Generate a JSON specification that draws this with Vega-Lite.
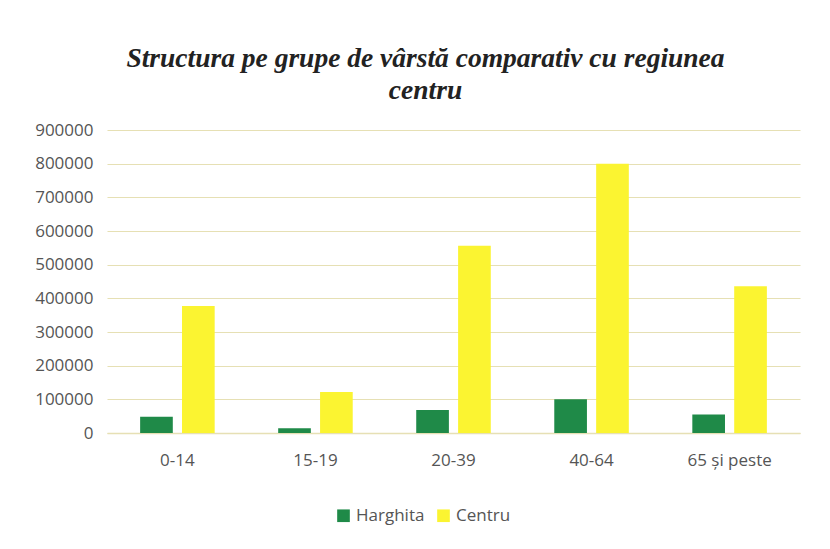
{
  "$schema": "https://vega.github.io/schema/vega-lite/v6.json",
  "autosize": "none",
  "width": 693,
  "height": 303,
  "padding": {"left": 107, "top": 130, "right": 30, "bottom": 116},
  "background": "white",
  "title": {
    "text": ["Structura pe grupe de vârstă comparativ cu regiunea", "centru"],
    "font": "Liberation Serif",
    "fontStyle": "italic",
    "fontWeight": "bold",
    "fontSize": 27.5,
    "lineHeight": 32,
    "color": "#222222",
    "anchor": "middle",
    "dx": -28,
    "offset": 17
  },
  "data": {
    "values": [
      {"grupa": "0-14", "regiune": "Harghita", "valoare": 48000},
      {"grupa": "0-14", "regiune": "Centru", "valoare": 377000},
      {"grupa": "15-19", "regiune": "Harghita", "valoare": 14000},
      {"grupa": "15-19", "regiune": "Centru", "valoare": 122000},
      {"grupa": "20-39", "regiune": "Harghita", "valoare": 68000},
      {"grupa": "20-39", "regiune": "Centru", "valoare": 556000},
      {"grupa": "40-64", "regiune": "Harghita", "valoare": 100000},
      {"grupa": "40-64", "regiune": "Centru", "valoare": 800000},
      {"grupa": "65 și peste", "regiune": "Harghita", "valoare": 55000},
      {"grupa": "65 și peste", "regiune": "Centru", "valoare": 436000}
    ]
  },
  "mark": {"type": "bar"},
  "encoding": {
    "x": {
      "field": "grupa",
      "type": "nominal",
      "sort": null,
      "scale": {"paddingInner": 0.46, "paddingOuter": 0.24},
      "axis": {
        "title": null,
        "labelAngle": 0,
        "labelFont": "Open Sans",
        "labelFontSize": 17,
        "labelColor": "#555555",
        "labelPadding": 19,
        "ticks": false,
        "domainColor": "#e6e0b4",
        "domainWidth": 1.5
      }
    },
    "xOffset": {
      "field": "regiune",
      "type": "nominal",
      "sort": ["Harghita", "Centru"],
      "scale": {"paddingInner": 0.22}
    },
    "y": {
      "field": "valoare",
      "type": "quantitative",
      "scale": {"domain": [0, 900000]},
      "axis": {
        "title": null,
        "values": [0, 100000, 200000, 300000, 400000, 500000, 600000, 700000, 800000, 900000],
        "format": "d",
        "labelFont": "Open Sans",
        "labelFontSize": 17,
        "labelColor": "#555555",
        "labelPadding": 14,
        "ticks": false,
        "domain": false,
        "gridColor": "#e6e0b4",
        "gridWidth": 1.2
      }
    },
    "color": {
      "field": "regiune",
      "type": "nominal",
      "sort": ["Harghita", "Centru"],
      "scale": {"domain": ["Harghita", "Centru"], "range": ["#1f8a48", "#fbf431"]},
      "legend": {
        "title": null,
        "orient": "none",
        "direction": "horizontal",
        "legendX": 228,
        "legendY": 377,
        "symbolType": "square",
        "symbolSize": 160,
        "symbolStrokeWidth": 0,
        "labelFont": "Open Sans",
        "labelFontSize": 17,
        "labelColor": "#555555",
        "columnPadding": 10,
        "labelOffset": 4
      }
    }
  },
  "config": {
    "view": {"stroke": null}
  }
}
